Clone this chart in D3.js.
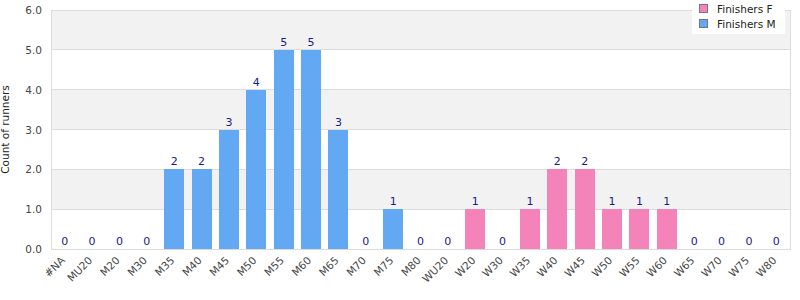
<!DOCTYPE html>
<html><head><meta charset="utf-8">
<script src="https://cdn.jsdelivr.net/npm/d3@7"></script>
<style>body{margin:0;background:#fff;}svg{display:block;font-family:"DejaVu Sans",sans-serif;}</style>
</head><body><svg id="c" width="800" height="300"></svg>
<script>
const categories = ["#NA","MU20","M20","M30","M35","M40","M45","M50","M55","M60","M65","M70","M75","M80","WU20","W20","W30","W35","W40","W45","W50","W55","W60","W65","W70","W75","W80"];
const finishersF = [0,0,0,0,0,0,0,0,0,0,0,0,0,0,0,1,0,1,2,2,1,1,1,0,0,0,0];
const finishersM = [0,0,0,0,2,2,3,4,5,5,3,0,1,0,0,0,0,0,0,0,0,0,0,0,0,0,0];
const yTicks = [0,1,2,3,4,5,6];
const seriesNames = ["Finishers F","Finishers M"];
const colors = ["#f383b9","#62a8f2"];

const svg = d3.select("#c");
const m = {l:51, r:10, t:10, b:51};
const W = 800, H = 300;
const fs = 10.5;
const x = d3.scaleBand().domain(categories).range([m.l, W-m.r]).paddingInner(0.27).paddingOuter(0.135);
const y = d3.scaleLinear().domain([0,6]).range([H-m.b, m.t]);

// bands
for (let i=0;i<6;i++){
  svg.append("rect").attr("x",m.l).attr("width",W-m.r-m.l)
    .attr("y",y(i+1)).attr("height",y(i)-y(i+1))
    .attr("fill", i%2===1 ? "#f2f2f2" : "#ffffff");
}
// grid lines
svg.append("g").selectAll("line").data(yTicks).join("line")
  .attr("x1",m.l).attr("x2",W-m.r).attr("y1",d=>y(d)).attr("y2",d=>y(d))
  .attr("stroke","#dcdcdc").attr("stroke-width",1).attr("shape-rendering","crispEdges");
svg.append("rect").attr("x",m.l).attr("y",m.t).attr("width",W-m.r-m.l).attr("height",y(0)-m.t)
  .attr("fill","none").attr("stroke","#dcdcdc").attr("shape-rendering","crispEdges");

// stacked bars
const data = categories.map((c,i)=>({cat:c, F:finishersF[i], M:finishersM[i]}));
const stack = d3.stack().keys(["F","M"])(data);
svg.append("g").selectAll("g").data(stack).join("g").attr("fill",(d,i)=>colors[i])
  .selectAll("rect").data(d=>d).join("rect")
  .attr("x",d=>x(d.data.cat)).attr("width",x.bandwidth())
  .attr("y",d=>y(d[1])).attr("height",d=>y(d[0])-y(d[1]))
  .attr("shape-rendering","crispEdges");

// value labels
svg.append("g").selectAll("text").data(data).join("text")
  .attr("x",d=>x(d.cat)+x.bandwidth()/2).attr("y",d=>y(d.F+d.M)-4)
  .attr("text-anchor","middle").attr("font-size",11).attr("fill","#1a1a8c")
  .text(d=>d.F+d.M);

// y axis labels
svg.append("g").selectAll("text").data(yTicks).join("text")
  .attr("x",m.l-9).attr("y",d=>y(d)+4).attr("text-anchor","end")
  .attr("font-size",fs).attr("fill","#444").text(d=>d3.format(".1f")(d));
svg.append("text").attr("transform",`translate(9,${(m.t+y(0))/2}) rotate(-90)`)
  .attr("text-anchor","middle").attr("font-size",fs).attr("fill","#222").text("Count of runners");

// x labels
svg.append("g").selectAll("text").data(categories).join("text")
  .attr("transform",d=>`translate(${x(d)+x.bandwidth()/2+1},${y(0)+12}) rotate(-45)`)
  .attr("text-anchor","end").attr("font-size",fs).attr("fill","#444").text(d=>d);

// legend
const lg = svg.append("g");
lg.append("rect").attr("x",692).attr("y",0).attr("width",93).attr("height",34).attr("fill","#fff");
seriesNames.forEach((s,i)=>{
  lg.append("rect").attr("x",699.5).attr("y",4.5+i*15).attr("width",8).attr("height",8)
    .attr("fill",colors[i]).attr("stroke","#777");
  lg.append("text").attr("x",717).attr("y",12.5+i*15).attr("font-size",fs).attr("fill","#222").text(s);
});
</script></body></html>
